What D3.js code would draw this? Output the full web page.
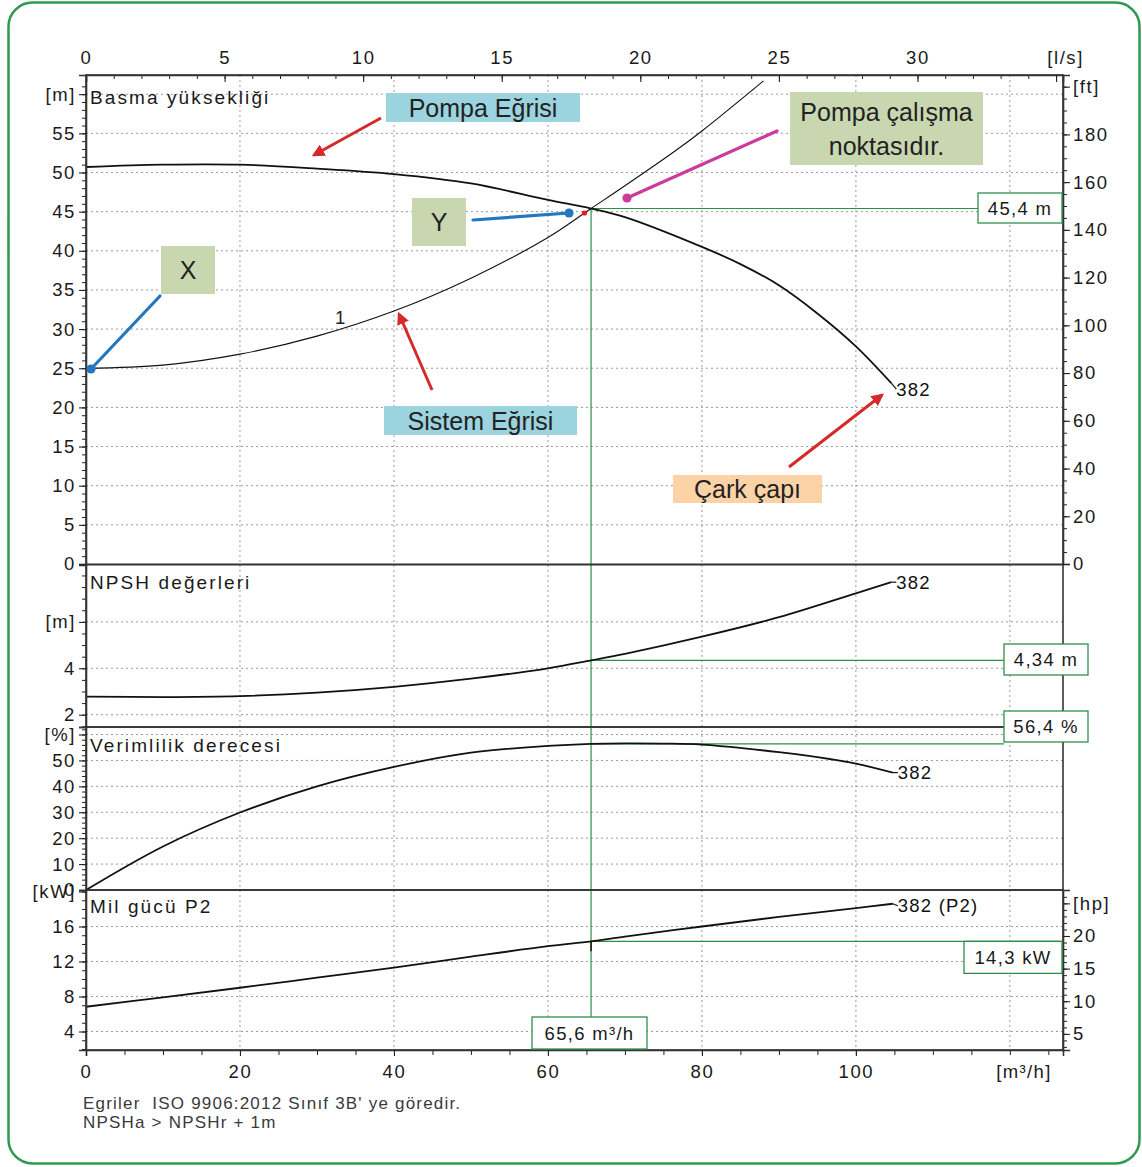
<!DOCTYPE html>
<html><head><meta charset="utf-8">
<script src="https://cdn.jsdelivr.net/npm/d3@7"></script>
<style>
html,body{margin:0;padding:0;background:#fff;}
svg{display:block;}
text{font-family:"Liberation Sans",Arial,sans-serif;}
</style></head><body>
<svg id="chart" width="1142" height="1167"></svg>
<script>
// ---------------- DATA ----------------
const headQ   = [0, 10, 20, 30, 40, 50, 60, 65.6, 70, 80, 85, 90, 95, 100, 104.6];
const headH   = [50.7, 51.0, 51.0, 50.5, 49.8, 48.6, 46.5, 45.4, 44.3, 40.5, 38.3, 35.6, 32.0, 27.8, 23.1];
const systemQ = [0, 10, 20, 30, 40, 50, 60, 65.6, 70, 76.6, 80, 88];
const systemH = [25, 25.4, 26.8, 29.1, 32.3, 36.5, 41.7, 45.4, 48.3, 52.8, 55.3, 61.7];
const npshQ   = [0, 10, 20, 30, 40, 50, 60, 65.6, 70, 80, 90, 100, 104.6];
const npshV   = [2.78, 2.76, 2.80, 2.95, 3.2, 3.55, 4.0, 4.34, 4.62, 5.36, 6.2, 7.23, 7.71];
const effQ    = [0, 10, 20, 30, 40, 50, 60, 65.6, 70, 75, 80, 90, 95, 100, 104.8];
const effV    = [0, 16.8, 29.9, 40.0, 47.5, 53.0, 55.6, 56.4, 56.6, 56.5, 56.1, 53.2, 51.3, 48.8, 45.3];
const powerQ  = [0, 10, 20, 30, 40, 50, 60, 65.6, 70, 80, 90, 100, 104.8];
const powerV  = [6.83, 7.9, 9.0, 10.15, 11.3, 12.55, 13.75, 14.3, 14.85, 16.0, 17.1, 18.1, 18.6];

const duty = {Q: 65.6, H: 45.4, npsh: 4.34, eff: 56.4, P: 14.3};
const dutyLabels = {Q: "65,6 m³/h", H: "45,4 m", npsh: "4,34 m", eff: "56,4 %", P: "14,3 kW"};

const flowTicks  = [0, 20, 40, 60, 80, 100];
const lsTicks    = [0, 5, 10, 15, 20, 25, 30, 35];
const headTicks  = [0, 5, 10, 15, 20, 25, 30, 35, 40, 45, 50, 55, 60];
const ftTicks    = [0, 20, 40, 60, 80, 100, 120, 140, 160, 180, 200];
const npshTicks  = [2, 4, 6];
const effTicks   = [0, 10, 20, 30, 40, 50, 60];
const powerTicks = [4, 8, 12, 16, 20];
const hpTicks    = [5, 10, 15, 20, 25];

const curveName = "382";
const systemName = "1";
const titles = ["Basma yüksekliği", "NPSH değerleri", "Verimlilik derecesi", "Mil gücü P2"];
const footer = ["Egriler  ISO 9906:2012 Sınıf 3B' ye göredir.", "NPSHa > NPSHr + 1m"];

// ---------------- LAYOUT ----------------
const L = 86, R = 1063;
const svg = d3.select("#chart");
const font = '"Liberation Sans", Arial, sans-serif';
const noteFont = '"Noto Sans", "Open Sans", sans-serif';

svg.append("rect").attr("x", 8.5).attr("y", 2.5).attr("width", 1131).attr("height", 1161)
  .attr("rx", 24).attr("fill", "#fff").attr("stroke", "#2f9a4e").attr("stroke-width", 2.5);

const x   = d3.scaleLinear([0, 126.9], [L, R]);
const xLs = d3.scaleLinear([0, 126.9 / 3.6], [L, R]);
const yHead = d3.scaleLinear([0, 62.45], [564, 75]);
const yFt   = d3.scaleLinear([0, 62.45 * 3.28084], [564, 75]);
const yNpsh = d3.scaleLinear([1.47, 8.45], [727, 565]);
const yEff  = d3.scaleLinear([0, 62.9], [890, 727]);
const yPow  = d3.scaleLinear([1.886, 20.17], [1050, 890]);
const yHp   = d3.scaleLinear([1.886 / 0.7457, 20.17 / 0.7457], [1050, 890]);

const panels = [
  {y: yHead, top: 75, bot: 564.5, grid: [5,10,15,20,25,30,35,40,45,50,55,60]},
  {y: yNpsh, top: 564.5, bot: 727, grid: [2,4,6]},
  {y: yEff, top: 727, bot: 890, grid: [10,20,30,40,50,60]},
  {y: yPow, top: 890, bot: 1050, grid: [4,8,12,16]}
];

const gridG = svg.append("g");
gridG.selectAll("line.v").data([20, 40, 60, 80, 100, 120]).join("line")
  .attr("x1", d => x(d)).attr("x2", d => x(d)).attr("y1", 75).attr("y2", 1050)
  .attr("stroke", "#9a9a9a").attr("stroke-dasharray", "2,3").attr("stroke-width", 1);
panels.forEach(p => {
  gridG.selectAll(null).data(p.grid).join("line")
    .attr("x1", L).attr("x2", R).attr("y1", d => p.y(d)).attr("y2", d => p.y(d))
    .attr("stroke", "#9a9a9a").attr("stroke-dasharray", "2,3").attr("stroke-width", 1);
});

// ---------------- green duty lines ----------------
const green = "#2e8f4a";
const gg = svg.append("g").attr("stroke", green).attr("stroke-width", 1.2).attr("fill", "none");
gg.append("line").attr("x1", x(duty.Q)).attr("x2", x(duty.Q)).attr("y1", yHead(duty.H)).attr("y2", 1017);
gg.append("line").attr("x1", x(duty.Q)).attr("x2", 978).attr("y1", yHead(duty.H)).attr("y2", yHead(duty.H));
gg.append("line").attr("x1", x(duty.Q)).attr("x2", 1004).attr("y1", yNpsh(duty.npsh)).attr("y2", yNpsh(duty.npsh));
gg.append("line").attr("x1", x(duty.Q)).attr("x2", 1004).attr("y1", yEff(duty.eff)).attr("y2", yEff(duty.eff));
gg.append("line").attr("x1", x(duty.Q)).attr("x2", 1062).attr("y1", yPow(duty.P)).attr("y2", yPow(duty.P));

// ---------------- curves ----------------
const mk = (qs, vs) => qs.map((q, i) => [q, vs[i]]);
function drawCurve(data, ys, w, clipTop) {
  svg.append("path").datum(data)
    .attr("d", d3.line().x(d => x(d[0])).y(d => ys(d[1])).curve(d3.curveCatmullRom.alpha(0.5)))
    .attr("fill", "none").attr("stroke", "#111").attr("stroke-width", w)
    .attr("stroke-linejoin", "round")
    .attr("clip-path", clipTop ? "url(#clipHead)" : null);
}
svg.append("clipPath").attr("id", "clipHead").append("rect")
  .attr("x", L).attr("y", 75).attr("width", R - L).attr("height", 489);

const headData = mk(headQ, headH), sysData = mk(systemQ, systemH);
const npshData = mk(npshQ, npshV), effData = mk(effQ, effV), powData = mk(powerQ, powerV);
drawCurve(sysData, yHead, 1.1, true);
drawCurve(headData, yHead, 1.8, true);
drawCurve(npshData, yNpsh, 1.8);
drawCurve(effData, yEff, 1.8);
drawCurve(powData, yPow, 1.8);

function endLabel(data, ys, txt, dy) {
  const e = data[data.length - 1];
  svg.append("line").attr("x1", x(e[0])).attr("x2", x(e[0]) + 5)
    .attr("y1", ys(e[1])).attr("y2", ys(e[1]) + dy).attr("stroke", "#111").attr("stroke-width", 1.2);
  svg.append("text").attr("x", x(e[0]) + 5).attr("y", ys(e[1]) + dy).attr("dy", "0.35em")
    .attr("font-size", 18.5).attr("letter-spacing", 1.2).attr("fill", "#111").text(txt);
}
endLabel(headData, yHead, curveName, 6);
endLabel(npshData, yNpsh, curveName, 0);
endLabel(effData, yEff, curveName, 0);
endLabel(powData, yPow, curveName + " (P2)", 2);

svg.append("text").attr("x", x(33.0)).attr("y", yHead(31.5)).attr("dy", "0.35em")
  .attr("text-anchor", "middle").attr("font-size", 18.5).attr("fill", "#222").text(systemName);

svg.append("line").attr("x1", x(duty.Q)).attr("x2", x(duty.Q))
  .attr("y1", yPow(duty.P)).attr("y2", yPow(duty.P) + 10).attr("stroke", "#111").attr("stroke-width", 1.5);

// ---------------- frames ----------------
panels.forEach(p => {
  svg.append("rect").attr("x", L).attr("y", p.top).attr("width", R - L).attr("height", p.bot - p.top)
    .attr("fill", "none").attr("stroke", "#333").attr("stroke-width", 1.6);
});

// ---------------- axes ----------------
function styleAxis(g) {
  g.select(".domain").attr("stroke", "#333").attr("stroke-width", 1.6);
  g.selectAll(".tick line").attr("stroke", "#222").attr("stroke-width", 1.1);
  g.selectAll(".tick text").attr("font-family", font).attr("font-size", 18.5)
    .attr("letter-spacing", 1.6).attr("fill", "#1a1a1a");
}
function minor(axisFn, scale, vals, size, tx, ty) {
  svg.append("g").attr("transform", `translate(${tx},${ty})`)
    .call(axisFn(scale).tickValues(vals).tickSize(size).tickFormat(""))
    .call(g => { g.select(".domain").remove(); g.selectAll(".tick line").attr("stroke", "#222").attr("stroke-width", 1); });
}
const fmt = (top, lab) => d => d === top ? lab : d;

minor(d3.axisTop, xLs, d3.range(0, 36, 1), -4, 0, 75);
svg.append("g").attr("transform", "translate(0,75)")
  .call(d3.axisTop(xLs).tickValues(lsTicks).tickSize(-7).tickPadding(11).tickFormat(fmt(35, "[l/s]")))
  .call(styleAxis)
  .call(g => g.selectAll(".tick text").filter(d => d === 35).attr("dx", 9));

minor(d3.axisBottom, x, d3.range(0, 127, 5), 5, 0, 1050);
svg.append("g").attr("transform", "translate(0,1050)")
  .call(d3.axisBottom(x).tickValues(flowTicks).tickSize(6).tickPadding(9))
  .call(styleAxis);
svg.append("text").attr("x", 1024).attr("y", 1072).attr("dy", "0.35em").attr("text-anchor", "middle")
  .attr("font-size", 18.5).attr("letter-spacing", 1.4).attr("fill", "#1a1a1a").text("[m³/h]");

minor(d3.axisLeft, yHead, d3.range(0, 62, 1), 4, L, 0);
svg.append("g").attr("transform", `translate(${L},0)`)
  .call(d3.axisLeft(yHead).tickValues(headTicks).tickSize(7).tickPadding(3).tickFormat(fmt(60, "[m]")))
  .call(styleAxis);
minor(d3.axisRight, yFt, d3.range(0, 204, 5), 4, R, 0);
svg.append("g").attr("transform", `translate(${R},0)`)
  .call(d3.axisRight(yFt).tickValues(ftTicks).tickSize(7).tickPadding(3).tickFormat(fmt(200, "[ft]")))
  .call(styleAxis);

minor(d3.axisLeft, yNpsh, d3.range(1.5, 8.5, 0.5), 4, L, 0);
svg.append("g").attr("transform", `translate(${L},0)`)
  .call(d3.axisLeft(yNpsh).tickValues(npshTicks).tickSize(7).tickPadding(3).tickFormat(fmt(6, "[m]")))
  .call(styleAxis);

minor(d3.axisLeft, yEff, d3.range(0, 63, 2), 4, L, 0);
svg.append("g").attr("transform", `translate(${L},0)`)
  .call(d3.axisLeft(yEff).tickValues(effTicks).tickSize(7).tickPadding(3).tickFormat(fmt(60, "[%]")))
  .call(styleAxis);

minor(d3.axisLeft, yPow, d3.range(2, 21, 1), 4, L, 0);
svg.append("g").attr("transform", `translate(${L},0)`)
  .call(d3.axisLeft(yPow).tickValues(powerTicks).tickSize(7).tickPadding(3).tickFormat(fmt(20, "[kW]")))
  .call(styleAxis);
minor(d3.axisRight, yHp, d3.range(3, 27, 1), 4, R, 0);
svg.append("g").attr("transform", `translate(${R},0)`)
  .call(d3.axisRight(yHp).tickValues(hpTicks).tickSize(7).tickPadding(3).tickFormat(fmt(25, "[hp]")))
  .call(styleAxis);

[[titles[0], 97], [titles[1], 582], [titles[2], 745], [titles[3], 906]].forEach(([t, yy]) => {
  svg.append("text").attr("x", 90).attr("y", yy).attr("dy", "0.35em").attr("font-size", 19)
    .attr("letter-spacing", 2.1).attr("fill", "#1a1a1a").text(t);
});

// ---------------- duty boxes ----------------
function box(x0, y0, w, h, txt) {
  svg.append("rect").attr("x", x0).attr("y", y0).attr("width", w).attr("height", h)
    .attr("fill", "#fff").attr("stroke", green).attr("stroke-width", 1.3);
  svg.append("text").attr("x", x0 + w / 2).attr("y", y0 + h / 2).attr("dy", "0.36em")
    .attr("text-anchor", "middle").attr("font-size", 18.5).attr("letter-spacing", 1.3).attr("fill", "#1a1a1a").text(txt);
}
box(978, 193, 84, 30, dutyLabels.H);
box(1004, 644, 84, 31, dutyLabels.npsh);
box(1004, 711, 84, 31, dutyLabels.eff);
box(964, yPow(duty.P), 98, 32, dutyLabels.P);
box(532, 1017, 115, 32, dutyLabels.Q);

svg.append("circle").attr("cx", 584.5).attr("cy", 213).attr("r", 2.6).attr("fill", "#e01e1e");

// ---------------- annotations ----------------
const defs = svg.append("defs");
defs.append("marker").attr("id", "arrR").attr("viewBox", "0 0 10 10").attr("refX", 8).attr("refY", 5)
  .attr("markerWidth", 4.2).attr("markerHeight", 4.2).attr("orient", "auto")
  .append("path").attr("d", "M0,0 L10,5 L0,10 Z").attr("fill", "#d42a2a");

function note(x0, y0, w, h, fill, lines) {
  svg.append("rect").attr("x", x0).attr("y", y0).attr("width", w).attr("height", h).attr("fill", fill);
  const lh = 34;
  lines.forEach((t, i) => {
    svg.append("text").attr("x", x0 + w / 2).attr("y", y0 + h / 2 + (i - (lines.length - 1) / 2) * lh)
      .attr("dy", "0.36em").attr("text-anchor", "middle").attr("font-family", noteFont)
      .attr("font-size", 25).attr("fill", "#222").text(t);
  });
}
function arrow(x1, y1, x2, y2) {
  svg.append("line").attr("x1", x1).attr("y1", y1).attr("x2", x2).attr("y2", y2)
    .attr("stroke", "#d42a2a").attr("stroke-width", 3).attr("marker-end", "url(#arrR)");
}
function pin(x1, y1, x2, y2, col) {
  svg.append("line").attr("x1", x1).attr("y1", y1).attr("x2", x2).attr("y2", y2)
    .attr("stroke", col).attr("stroke-width", 3.2).attr("stroke-linecap", "round");
  svg.append("circle").attr("cx", x2).attr("cy", y2).attr("r", 4.6).attr("fill", col);
}

const blueNote = "#9bd3df", olive = "#c9d7b1", peach = "#fcd3a6";
note(386, 93, 194, 29, blueNote, ["Pompa Eğrisi"]);
arrow(381, 118, 314, 155);
note(790, 92, 193, 73, olive, ["Pompa çalışma", "noktasıdır."]);
pin(777, 131, 627, 198, "#cc3a9e");
note(412, 198, 54, 48, olive, ["Y"]);
pin(473, 220, 569, 213, "#2277c0");
note(161, 246, 54, 48, olive, ["X"]);
pin(160, 296, 91, 369, "#2277c0");
note(384, 406, 193, 29, blueNote, ["Sistem Eğrisi"]);
arrow(432, 390, 399, 314);
note(673, 475, 149, 28, peach, ["Çark çapı"]);
arrow(789, 467, 882, 395);

footer.forEach((t, i) => {
  svg.append("text").attr("x", 83).attr("y", 1103 + i * 19).attr("dy", "0.35em")
    .attr("font-size", 17).attr("letter-spacing", 1.2).attr("fill", "#3a3a3a").style("white-space", "pre").text(t);
});
</script>
</body></html>
